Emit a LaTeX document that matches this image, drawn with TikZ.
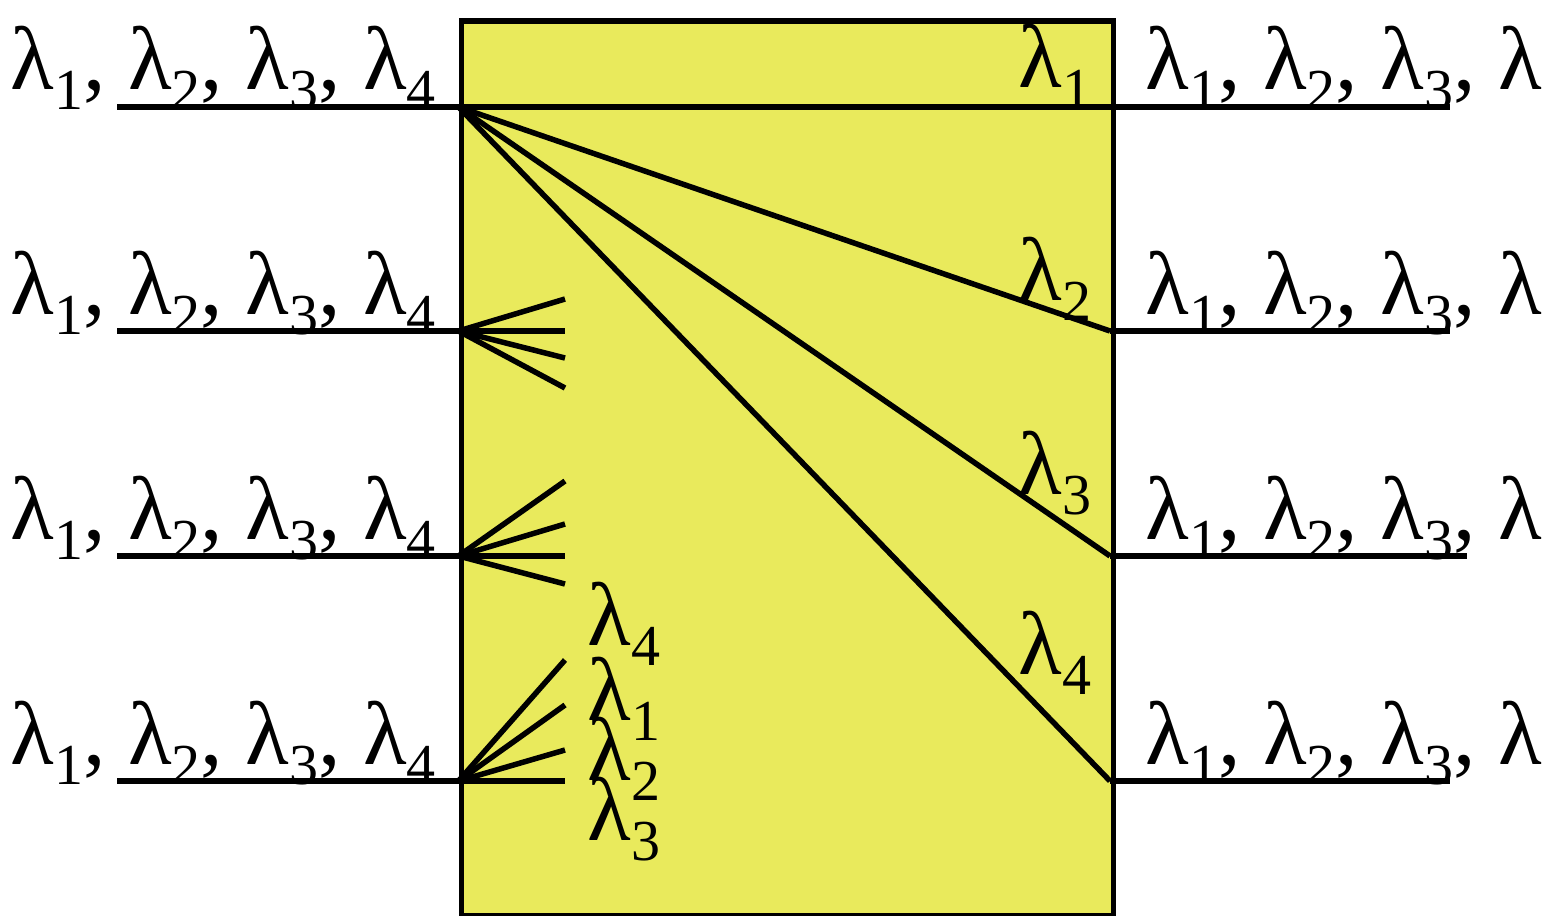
\documentclass[tikz,border=0pt]{standalone}
\usepackage{fontspec}
\setmainfont{Liberation Serif}
\newcommand\lm[1]{λ\raisebox{-10pt}{\fontsize{29}{29}\selectfont #1}}
\definecolor{boxyellow}{HTML}{E9EA5C}
\tikzset{
  lbl/.style={anchor=base west, inner sep=0pt, font=\fontsize{45}{54}\selectfont},
  wire/.style={line width=2.75pt},
  boxst/.style={draw, line width=2.75pt, fill=boxyellow, inner sep=0pt, anchor=north west,
    minimum width=326pt, minimum height=447pt}
}
\begin{document}
\begin{tikzpicture}[x=0.5pt,y=-0.5pt]
\useasboundingbox (0,0) rectangle (1561,915);
\node[boxst] (box) at (458.5,18.5) {};
% ports
\foreach \y [count=\i] in {107,331,556,781} {
  \coordinate (L\i) at (458.5,\y);
  \coordinate (R\i) at (1110,\y);
  \coordinate (ls\i) at (117,\y);
  \node[lbl] (lt\i) at (10,\y-17) {\lm{1}, \lm{2}, \lm{3}, \lm{4}};
  \node[lbl] (rt\i) at (1145,\y-17) {\lm{1}, \lm{2}, \lm{3}, λ};
}
\coordinate (re1) at (1450,107);
\coordinate (re2) at (1450,331);
\coordinate (re3) at (1467,556);
\coordinate (re4) at (1450,781);
\foreach \i in {1,...,4} {
  \draw[wire] (ls\i) -- (L\i);
  \draw[wire] (R\i) -- (re\i);
}
% demux from top port
\draw[wire] (L1) -- (R1);
\draw[wire] (L1) -- (R2);
\draw[wire] (L1) -- (R3);
\draw[wire] (L1) -- (R4);
\node[lbl] (o1) at (1018,88) {\lm{1}};
\node[lbl] (o2) at (1018,300) {\lm{2}};
\node[lbl] (o3) at (1018,494) {\lm{3}};
\node[lbl] (o4) at (1018,674) {\lm{4}};
% fans
\foreach \y [count=\i] in {299,331,358,388} {
  \coordinate (fa\i) at (565,\y); \draw[wire] (L2) -- (fa\i);}
\foreach \y [count=\i] in {481,524,556,584} {
  \coordinate (fb\i) at (565,\y); \draw[wire] (L3) -- (fb\i);}
\foreach \y [count=\i] in {660,705,750,781} {
  \coordinate (fc\i) at (565,\y); \draw[wire] (L4) -- (fc\i);}
\node[lbl] (w4) at (587,645) {\lm{4}};
\node[lbl] (w1) at (587,720) {\lm{1}};
\node[lbl] (w2) at (587,780) {\lm{2}};
\node[lbl] (w3) at (587,840) {\lm{3}};
\end{tikzpicture}
\end{document}
